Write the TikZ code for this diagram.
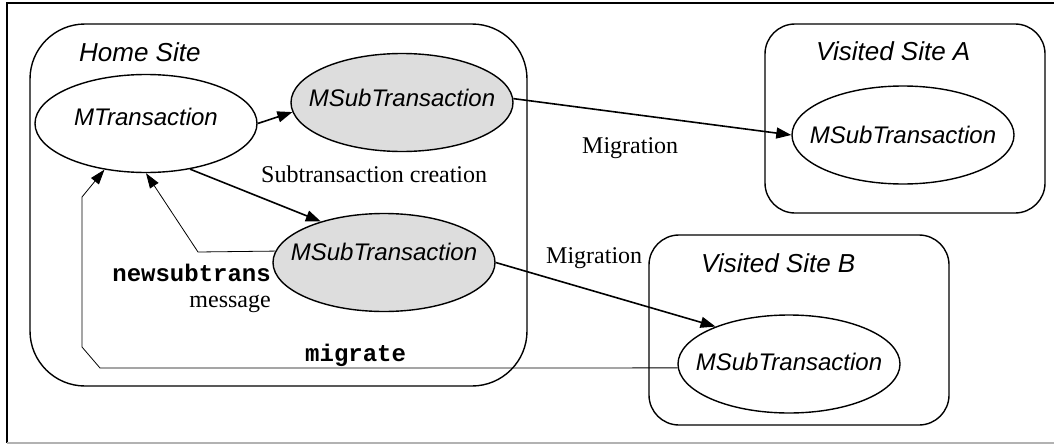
\documentclass[tikz,border=0pt]{standalone}
\usepackage{fontspec}
\setmainfont{Liberation Serif}
\setsansfont{Liberation Sans}
\setmonofont{Liberation Mono}
\usetikzlibrary{shapes.geometric,arrows.meta}
\definecolor{ellgray}{RGB}{221,221,221}
\newcommand{\ellbox}[1]{\makebox[0pt]{#1}}
\tikzset{
  sitebox/.style={draw, line width=1.4pt, rounded corners=30pt, inner sep=0pt},
  ell/.style={ellipse, draw, line width=1.4pt, minimum width=222pt, minimum height=98pt,
    inner sep=0pt, font=\sffamily\itshape\fontsize{24}{28}\selectfont},
  grayell/.style={ell, fill=ellgray},
  sitelabel/.style={font=\sffamily\itshape\fontsize{26}{30}\selectfont, inner sep=0pt, anchor=base west},
  serif/.style={font=\rmfamily\fontsize{24}{28}\selectfont, inner sep=0pt},
  code/.style={font=\ttfamily\bfseries\fontsize{24}{28}\selectfont, inner sep=0pt},
  flow/.style={line width=1.6pt, -{Triangle[length=15pt,width=11pt]}},
  thinflow/.style={line width=0.8pt, -{Triangle[length=15pt,width=10pt]}},
  frameline/.style={line width=1.2pt}
}
\begin{document}
\begin{tikzpicture}[x=1pt,y=-1pt]
\useasboundingbox (0,0) rectangle (1054,444);
% outer frame
\draw[frameline] (1054,3) -- (7,3) -- (7,443);
\draw[frameline, gray!60] (7,443) -- (1054,443);
% sites
\node[sitebox, minimum width=497pt, minimum height=362pt, rounded corners=55pt] (home) at (278.5,205) {};
\node[sitebox, minimum width=280pt, minimum height=189pt] (siteA) at (905,118.5) {};
\node[sitebox, minimum width=300pt, minimum height=190pt] (siteB) at (799,330) {};
\node[sitelabel] (homel) at (79,62) {Home Site};
\node[sitelabel] (al) at (816,60) {Visited Site A};
\node[sitelabel] (bl) at (701,272) {Visited Site B};
% transactions
\node[ell, text depth=14pt] (m) at (146,123.5) {\ellbox{MTransaction}};
\node[grayell, text depth=9pt] (s1) at (402,102.5) {\ellbox{MSubTransaction}};
\node[grayell, text depth=22pt] (s2) at (384,262.5) {\ellbox{MSubTransaction}};
\node[ell] (va) at (903,135) {\ellbox{MSubTransaction}};
\node[ell, text depth=5pt] (vb) at (789,364) {\ellbox{MSubTransaction}};
% labels
\node[serif, anchor=base west] (subl) at (261,182) {Subtransaction creation};
\node[serif, anchor=base west] (migA) at (582,153) {Migration};
\node[serif, anchor=base west] (migB) at (546,263) {Migration};
\node[code, anchor=base east] (nst) at (271,281) {newsubtrans};
\node[serif, anchor=base east] (msg) at (271,307) {message};
\node[code, anchor=base west] (mig) at (305,361) {migrate};
% connectors
\draw[flow] (m.east) -- (s1.185);
\draw[flow] (m.-46) -- (s2.147);
\draw[flow] (s1.2) -- (va.west);
\draw[flow] (s2.east) -- (vb.153);
\coordinate (nb) at (198,252);
\draw[thinflow] (s2.174) -- (nb) -- (m.south);
\coordinate (g1) at (100,368);
\coordinate (g2) at (82,347);
\coordinate (g3) at (82,197);
\draw[thinflow] (vb.182) -- (g1) -- (g2) -- (g3) -- (m.228);
\end{tikzpicture}
\end{document}
